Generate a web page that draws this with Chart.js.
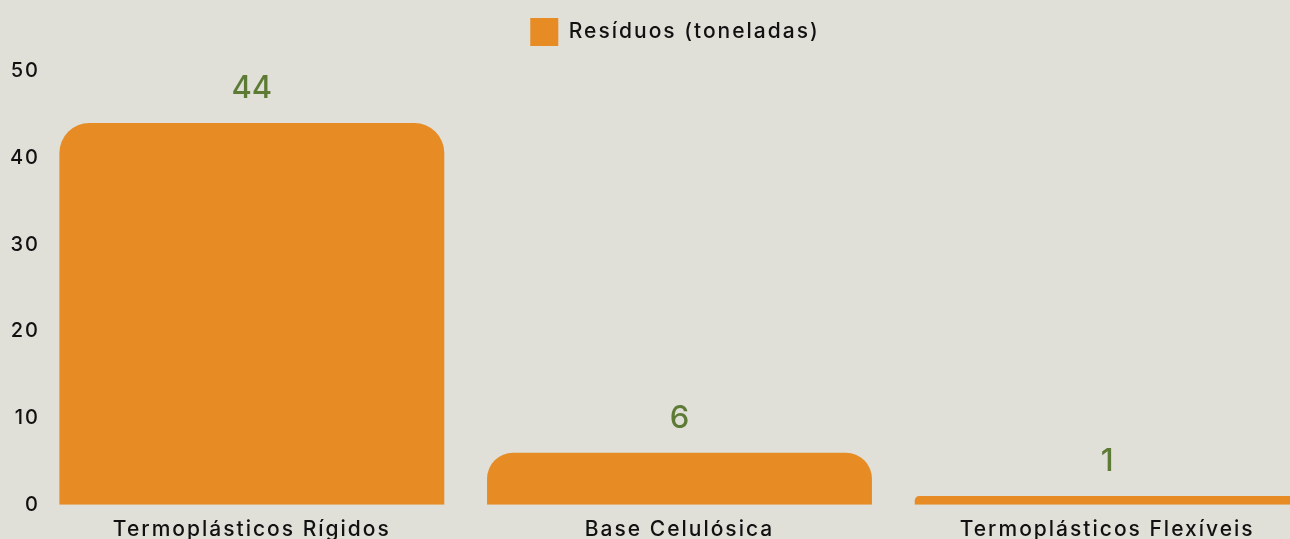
<!DOCTYPE html>
<html>
<head>
<meta charset="utf-8">
<script src="https://cdn.jsdelivr.net/npm/chart.js@4.4.1/dist/chart.umd.min.js"></script>
<style>
  html, body { margin: 0; padding: 0; background: #e0dfd8; overflow: hidden; }
  #wrap { position: absolute; left: 0; top: 0; width: 1350px; height: 546px; }
</style>
</head>
<body>
<div id="wrap"><canvas id="grafico_residuos"></canvas></div>
<script>
// dados do gráfico
var categorias = ["Termoplásticos Rígidos", "Base Celulósica", "Termoplásticos Flexíveis"];
var residuos = [44, 6, 1];
var legendaSerie = "Resíduos (toneladas)";

var fonte = "Inter, 'Open Sans', sans-serif";
var espacamento = "2px";

// texto mais largo (a fonte original é bem larga) + espaço abaixo da legenda
var ajustes = {
    id: "ajustes",
    beforeUpdate: function (chart) { chart.ctx.letterSpacing = espacamento; },
    beforeDraw: function (chart) { chart.ctx.letterSpacing = espacamento; },
    beforeLayout: function (chart) {
        var leg = chart.legend;
        if (leg && !leg._ajustada) {
            var fitOriginal = leg.fit;
            leg.fit = function () {
                fitOriginal.call(this);
                this.height += 15;
            };
            leg._ajustada = true;
        }
    }
};

// escreve o valor em cima de cada barra
var rotulosValor = {
    id: "rotulosValor",
    afterDatasetsDraw: function (chart) {
        var ctx = chart.ctx;
        var meta = chart.getDatasetMeta(0);
        ctx.save();
        ctx.letterSpacing = "0px";
        ctx.fillStyle = "#5e7b36";
        ctx.font = "500 31px " + fonte;
        ctx.textAlign = "center";
        ctx.textBaseline = "middle";
        meta.data.forEach(function (bar, i) {
            ctx.fillText(String(residuos[i]), bar.x, bar.y - 34);
        });
        ctx.restore();
    }
};

new Chart(document.getElementById("grafico_residuos"), {
    type: "bar",
    data: {
        labels: categorias,
        datasets: [{
            label: legendaSerie,
            data: residuos,
            backgroundColor: "#e78b25",
            borderRadius: 30,
            borderSkipped: "bottom",
            barPercentage: 0.9,
            categoryPercentage: 1.0
        }]
    },
    options: {
        responsive: true,
        maintainAspectRatio: false,
        animation: false,
        layout: { padding: { top: 8, right: 0, left: 0, bottom: 0 } },
        plugins: {
            legend: {
                position: "top",
                labels: {
                    boxWidth: 28,
                    boxHeight: 28,
                    padding: 10,
                    color: "#111",
                    font: { family: fonte, size: 21, weight: "500" }
                }
            },
            tooltip: { enabled: false }
        },
        scales: {
            x: {
                grid: { display: false },
                border: { display: false },
                ticks: { color: "#111", padding: 4, font: { family: fonte, size: 21, weight: "500" } }
            },
            y: {
                min: 0,
                max: 50,
                grid: { display: false, drawTicks: false },
                border: { display: false },
                afterFit: function (scale) { scale.width = 38; },
                ticks: { stepSize: 10, padding: -2, color: "#111", font: { family: fonte, size: 20, weight: "500" } }
            },
            yDir: {
                position: "right",
                grid: { display: false, drawTicks: false },
                border: { display: false },
                ticks: { display: false },
                afterFit: function (scale) { scale.width = 29; }
            }
        }
    },
    plugins: [ajustes, rotulosValor]
});
</script>
</body>
</html>
